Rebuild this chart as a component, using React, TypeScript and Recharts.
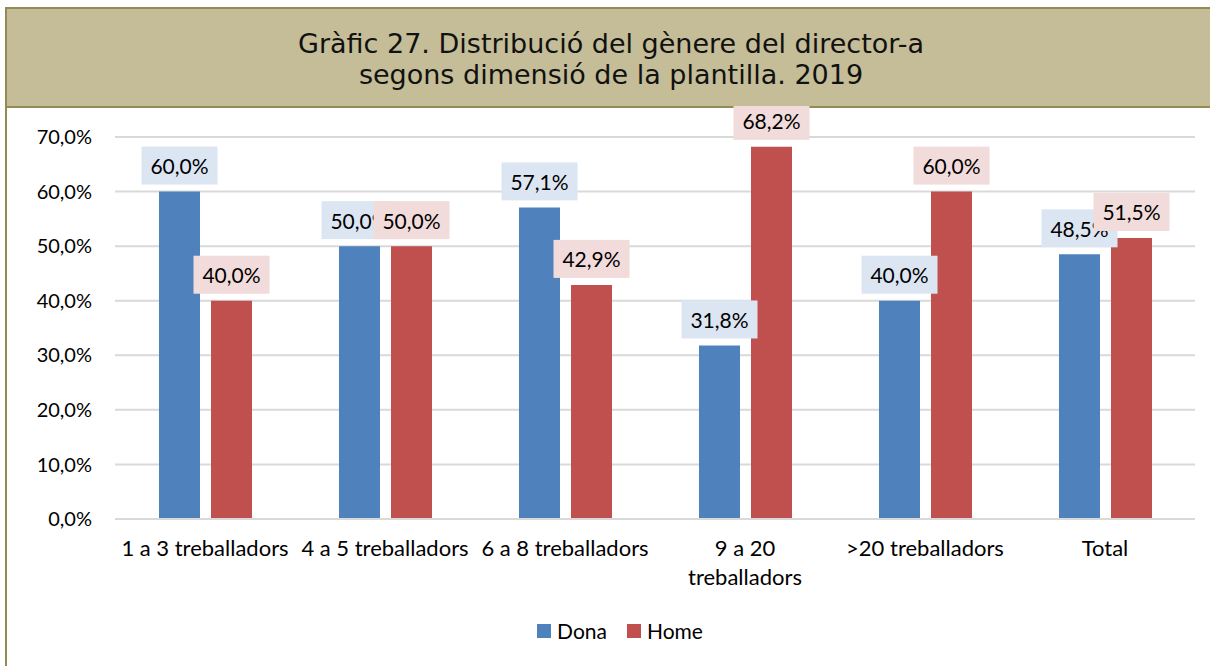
import React from "react";
import { BarChart, Bar, XAxis, YAxis, CartesianGrid, Legend, LabelList } from "recharts";

const categories = [
  "1 a 3 treballadors",
  "4 a 5 treballadors",
  "6 a 8 treballadors",
  "9 a 20\ntreballadors",
  ">20 treballadors",
  "Total",
];
const dona = [60.0, 50.0, 57.1, 31.8, 40.0, 48.5];
const home = [40.0, 50.0, 42.9, 68.2, 60.0, 51.5];
const yTicks = [0, 10, 20, 30, 40, 50, 60, 70];

const data = categories.map((c, i) => ({ cat: c, dona: dona[i], home: home[i] }));

const FONT = "Lato, 'Open Sans', sans-serif";
const BLUE = "#4F81BD";
const RED = "#C0504D";

const fmt = (v: number) => `${v.toFixed(1).replace(".", ",")}%`;

// label with a pale box behind it, sitting just above the bar
const boxLabel = (bg: string) => (props: any) => {
  const { x, y, width, value } = props;
  const cx = Number(x) + Number(width) / 2;
  const bottom = Number(y) - 7;
  return (
    <g>
      <rect x={cx - 38} y={bottom - 38} width={76} height={38} fill={bg} />
      <text
        x={cx}
        y={bottom - 19}
        textAnchor="middle"
        dominantBaseline="central"
        fontFamily={FONT}
        fontSize={21}
        fill="#000"
      >
        {fmt(Number(value))}
      </text>
    </g>
  );
};

const CatTick = (props: any) => {
  const { x, y, payload } = props;
  const lines = String(payload.value).split("\n");
  return (
    <text x={x} y={y} textAnchor="middle" fontFamily={FONT} fontSize={22} fill="#000">
      {lines.map((l, i) => (
        <tspan key={i} x={x} dy={i === 0 ? 37 : 29}>
          {l}
        </tspan>
      ))}
    </text>
  );
};

const LegendBox = () => (
  <div style={{ display: "flex", justifyContent: "center", alignItems: "center", fontFamily: FONT, fontSize: 21 }}>
    <span style={{ width: 14, height: 14, background: BLUE, display: "inline-block", marginRight: 6 }} />
    <span style={{ marginRight: 20 }}>Dona</span>
    <span style={{ width: 14, height: 14, background: RED, display: "inline-block", marginRight: 6 }} />
    <span>Home</span>
  </div>
);

export default function App() {
  return (
    <div style={{ position: "absolute", left: 0, top: 0, width: 1210, height: 666, overflow: "hidden", background: "#fff" }}>
      <div
        style={{
          position: "absolute",
          left: 5,
          top: 7,
          width: 1300,
          height: 1000,
          borderLeft: "2px solid #948A54",
          borderTop: "2px solid #948A54",
        }}
      />
      <div
        style={{
          position: "absolute",
          left: 5,
          top: 7,
          width: 1300,
          height: 97,
          background: "#C4BD97",
          borderTop: "2px solid #948A54",
          borderLeft: "2px solid #948A54",
          borderBottom: "2px solid #948A54",
        }}
      />
      <div
        style={{
          position: "absolute",
          left: 0,
          top: 28,
          width: 1222,
          textAlign: "center",
          fontFamily: "'DejaVu Sans', Verdana, sans-serif",
          fontSize: 27,
          lineHeight: "31px",
          color: "#111",
        }}
      >
        Gràfic 27. Distribució del gènere del director-a
        <br />
        segons dimensió de la plantilla. 2019
      </div>
      <div style={{ position: "absolute", left: 0, top: 106 }}>
        <BarChart
          width={1210}
          height={560}
          data={data}
          margin={{ top: 31, right: 15, left: 15, bottom: 52 }}
          barSize={41}
          barGap={11}
        >
          <CartesianGrid vertical={false} stroke="#D9D9D9" strokeWidth={2} />
          <XAxis
            dataKey="cat"
            tick={<CatTick />}
            tickLine={false}
            axisLine={{ stroke: "#D9D9D9", strokeWidth: 2 }}
            tickSize={0}
            tickMargin={0}
            height={70}
            interval={0}
          />
          <YAxis
            domain={[0, 70]}
            ticks={yTicks}
            tickFormatter={fmt}
            axisLine={false}
            tickLine={false}
            tickSize={0}
            tickMargin={23}
            width={100}
            tick={{ fontFamily: FONT, fontSize: 20, fill: "#000" }}
          />
          <Legend content={<LegendBox />} wrapperStyle={{ top: 512, left: 0, width: 1240 }} />
          <Bar dataKey="dona" name="Dona" fill={BLUE} isAnimationActive={false}>
            <LabelList dataKey="dona" content={boxLabel("#DCE6F2")} />
          </Bar>
          <Bar dataKey="home" name="Home" fill={RED} isAnimationActive={false}>
            <LabelList dataKey="home" content={boxLabel("#F2DCDB")} />
          </Bar>
        </BarChart>
      </div>
    </div>
  );
}
